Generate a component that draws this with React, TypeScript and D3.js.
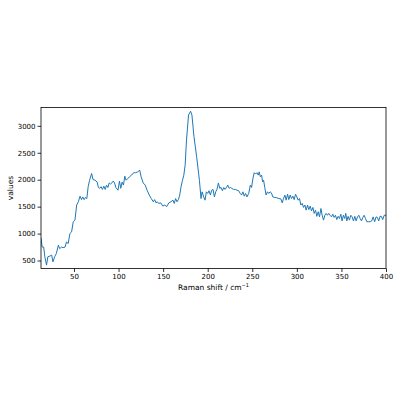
import React, { useRef, useEffect } from 'react';
import * as d3 from 'd3';

// Raman spectrum
const shift = [
  13, 14.3, 16, 17.3, 19.2, 20.7, 22.6, 25, 26.4, 28.3, 30.2, 32.5, 34, 35.9, 37.8, 40, 41.6, 43.5,
  45.4, 47.3, 49.2, 51.1, 53, 54.9, 56.8, 58.4, 59.9, 61.4, 62.9, 64.4, 65.9, 67.5, 69.8, 71.3,
  73.6, 75.9, 77.4, 78.9, 80.4, 81.9, 83.5, 85, 86.5, 88, 89.5, 91, 92.5, 94, 95.5, 97, 99.4, 101,
  102.5, 104, 105.5, 107, 108.5, 110, 112.3, 114.6, 116.9, 119, 121.5, 123.8, 125.3, 127.6, 129.9,
  132, 134.4, 136.7, 139, 140.5, 142, 143.5, 145, 147.3, 149.6, 151.9, 154, 156.4, 158.7, 161,
  162.5, 164, 165.6, 167.1, 168.6, 170.1, 171.7, 173.2, 174.7, 176.2, 178.5, 180.8, 182.3, 184.6,
  187.6, 190.7, 192.5, 193.7, 195.5, 197, 198.5, 200, 201.5, 203, 204.5, 206, 207.5, 209, 210.4,
  212, 213.5, 215, 216.5, 218, 219.5, 221, 222.5, 224, 225.5, 227, 229, 231, 232.8, 234.7, 236.5,
  238, 239.5, 241, 242.5, 244, 246, 247.8, 249.2, 250.7, 252.2, 253.7, 255.2, 256.7, 257.8, 259,
  260.5, 261.6, 262.7, 264, 265.5, 267, 268.5, 270, 271.5, 273, 275.3, 277.6, 279.8, 282, 283.6,
  285, 286.6, 288, 289.6, 291, 292.5, 294, 295.5, 297, 298.5, 300, 301.5, 303, 304.5, 306, 307.5,
  309, 310.4, 312, 313.4, 315, 316.4, 318, 319.4, 321, 322.4, 324, 325.4, 327, 328.4, 329.9, 331.4,
  332.8, 334.3, 335.8, 337.3, 338.8, 340.3, 341.8, 343.3, 344.8, 346.3, 347.8, 349.3, 350.7, 352.2,
  353.7, 354.9, 356, 357.5, 359, 360.5, 362, 363.5, 365, 366.5, 368, 369.5, 371, 372.5, 374, 375.5,
  377, 378.5, 380.6, 382.3, 384, 385.6, 387.3, 388.8, 390.3, 391.8, 393.3, 394.8, 396.3, 398, 400,
];

const intensity = [
  920, 750, 750, 570, 415, 570, 580, 600, 475, 570, 630, 785, 720, 750, 740, 750, 845, 815,
  1000, 1030, 1220, 1250, 1530, 1590, 1695, 1630, 1680, 1630, 1670, 1650, 1870, 1990, 2115, 2005,
  1990, 1960, 1855, 1840, 1870, 1820, 1880, 1820, 1900, 1855, 1940, 1920, 1940, 1975, 1940, 1855,
  1805, 1975, 1840, 1955, 1900, 2065, 1990, 2015, 2055, 2085, 2130, 2130, 2145, 2175, 2055, 1940,
  1900, 1805, 1715, 1650, 1590, 1630, 1570, 1590, 1560, 1570, 1510, 1530, 1500, 1570, 1590, 1620,
  1560, 1650, 1590, 1630, 1715, 1870, 1990, 2085, 2270, 2735, 3200, 3270, 3200, 2800,
  2425, 1990, 1650, 1775, 1680, 1620, 1775, 1745, 1795, 1715, 1805, 1820, 1680, 1775, 1820,
  1940, 1840, 1855, 1795, 1855, 1820, 1855, 1900, 1840, 1855, 1840, 1820, 1820, 1805, 1795, 1745,
  1715, 1775, 1695, 1745, 1680, 1745, 1900, 1855, 2020, 2130, 2105, 2130, 2085, 2145, 2055,
  2085, 1960, 1990, 1855, 1715, 1775, 1745, 1775, 1755, 1680, 1670, 1665, 1650, 1645, 1570,
  1650, 1715, 1620, 1730, 1630, 1715, 1650, 1695, 1630, 1730, 1680, 1620, 1650, 1530, 1560, 1485,
  1530, 1435, 1530, 1445, 1510, 1420, 1485, 1375, 1435, 1320, 1405, 1310, 1465, 1340, 1250, 1340,
  1375, 1340, 1375, 1340, 1310, 1360, 1300, 1340, 1260, 1320, 1280, 1360, 1235, 1340,
  1280, 1375, 1235, 1320, 1250, 1340, 1310, 1235, 1320, 1235, 1310, 1340, 1280, 1235, 1300, 1340,
  1280, 1220, 1220, 1220, 1235, 1310, 1220, 1310, 1300, 1235, 1320, 1320, 1260, 1340, 1340,
];

const xTicks = [50, 100, 150, 200, 250, 300, 350, 400];
const yTicks = [500, 1000, 1500, 2000, 2500, 3000];

const App: React.FC = () => {
  const svgRef = useRef<SVGSVGElement | null>(null);

  useEffect(() => {
    const svg = d3.select(svgRef.current!);
    svg.selectAll('*').remove();

    const left = 41, right = 386, top = 107.5, bottom = 268.5;
    const font = 'DejaVu Sans, sans-serif';

    const x = d3.scaleLinear().domain([13, 400]).range([left, right]);
    const y = d3.scaleLinear().domain([352, 3340]).range([bottom, top]);

    const line = d3.line<number>()
      .x((_, i) => x(shift[i]))
      .y((d) => y(d));

    svg.append('defs').append('clipPath').attr('id', 'plotclip')
      .append('rect')
      .attr('x', left).attr('y', top)
      .attr('width', right - left).attr('height', bottom - top);

    svg.append('path')
      .datum(intensity)
      .attr('d', line)
      .attr('fill', 'none')
      .attr('stroke', '#1f77b4')
      .attr('stroke-width', 1)
      .attr('stroke-linejoin', 'round')
      .attr('clip-path', 'url(#plotclip)');

    const xAxis = svg.append('g')
      .attr('transform', `translate(0,${bottom})`)
      .call(d3.axisBottom(x).tickValues(xTicks).tickFormat(d3.format('d')).tickSize(3.5).tickPadding(2).tickSizeOuter(0));
    const yAxis = svg.append('g')
      .attr('transform', `translate(${left},0)`)
      .call(d3.axisLeft(y).tickValues(yTicks).tickFormat(d3.format('d')).tickSize(3.5).tickPadding(2).tickSizeOuter(0));

    [xAxis, yAxis].forEach((g) => {
      g.select('.domain').remove();
      g.selectAll('line').attr('stroke', '#000').attr('stroke-width', 0.8);
      g.selectAll('text')
        .attr('fill', '#000')
        .style('font-family', font)
        .style('font-size', '7px');
    });

    svg.append('rect')
      .attr('x', left).attr('y', top)
      .attr('width', right - left).attr('height', bottom - top)
      .attr('fill', 'none')
      .attr('stroke', '#000')
      .attr('stroke-width', 0.8);

    const xl = svg.append('text')
      .attr('x', (left + right) / 2)
      .attr('y', 290)
      .attr('text-anchor', 'middle')
      .style('font-family', font)
      .style('font-size', '7.5px');
    xl.append('tspan').text('Raman shift / cm');
    xl.append('tspan').attr('dy', -3).style('font-size', '5px').text('\u22121');

    svg.append('text')
      .attr('transform', `translate(13,${(top + bottom) / 2}) rotate(-90)`)
      .attr('text-anchor', 'middle')
      .style('font-family', font)
      .style('font-size', '7.5px')
      .text('values');
  }, []);

  return (
    <svg
      ref={svgRef}
      width={400}
      height={400}
      style={{ position: 'absolute', left: 0, top: 0, background: '#fff' }}
    />
  );
};

export default App;
